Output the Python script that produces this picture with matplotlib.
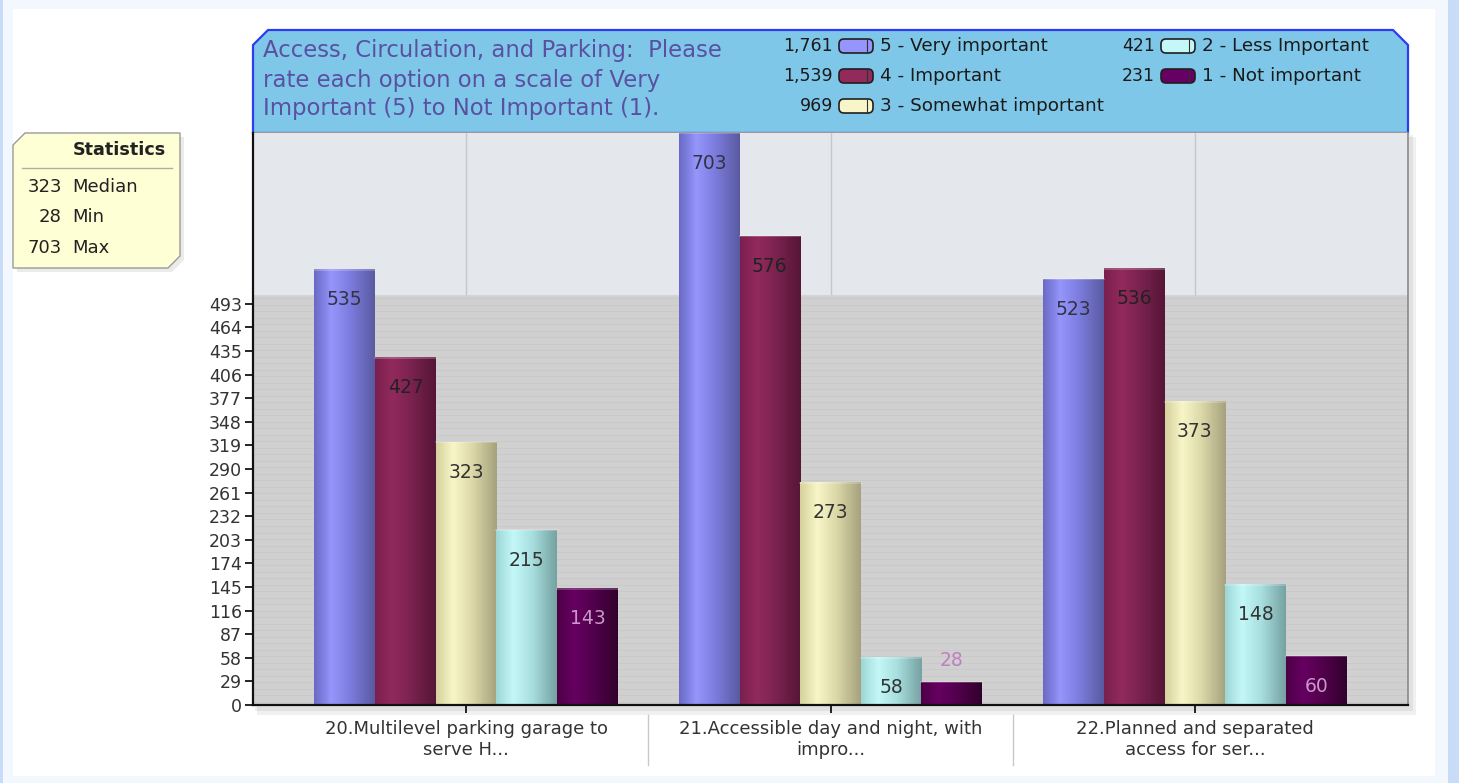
import numpy as np
import matplotlib
matplotlib.use("Agg")
import matplotlib.pyplot as plt
from matplotlib.colors import LinearSegmentedColormap
from matplotlib.patches import Polygon, Rectangle, FancyBboxPatch
import matplotlib.transforms as mtransforms

plt.rcParams['font.family'] = ['DejaVu Sans']

# ---------------- data ----------------
categories = ["20.Multilevel parking garage to\nserve H...",
              "21.Accessible day and night, with\nimpro...",
              "22.Planned and separated\naccess for ser..."]
series_names = ["5 - Very important", "4 - Important", "3 - Somewhat important",
                "2 - Less Important", "1 - Not important"]
very_important = [535, 703, 523]
important = [427, 576, 536]
somewhat_important = [323, 273, 373]
less_important = [215, 58, 148]
not_important = [143, 28, 60]
series_values = [very_important, important, somewhat_important, less_important, not_important]
title_lines = ["Access, Circulation, and Parking:  Please",
               "rate each option on a scale of Very",
               "Important (5) to Not Important (1)."]
y_ticks = list(range(0, 494, 29))

# ---------------- styles ----------------
grads = [
    [(0, '#6a6ac6'), (0.28, '#9595fc'), (0.6, '#7c7cde'), (1, '#5a5aa2')],
    [(0, '#7a2050'), (0.28, '#922a5c'), (0.6, '#7a2250'), (1, '#561636')],
    [(0, '#d6d29e'), (0.28, '#f8f6c8'), (0.6, '#dcd8a8'), (1, '#a6a27e')],
    [(0, '#9ed6d6'), (0.28, '#c4f8f8'), (0.6, '#a8dede'), (1, '#76a2a2')],
    [(0, '#4e0046'), (0.28, '#660062'), (0.6, '#52004c'), (1, '#32002e')],
]
label_colors = ['#333344', '#222222', '#333333', '#333333', '#c898c8']
cmaps = [LinearSegmentedColormap.from_list(f"g{i}", g) for i, g in enumerate(grads)]

W, H = 1459, 783
fig = plt.figure(figsize=(W / 100, H / 100), dpi=100)
fig.patch.set_facecolor('#f2f8fe')

# overlay axes in pixel coordinates for decorations
bg = fig.add_axes([0, 0, 1, 1], zorder=0)
bg.set_xlim(0, W)
bg.set_ylim(H, 0)
bg.axis('off')
bg.add_patch(Rectangle((0, 0), 3, H, color='#c8dcf8', lw=0))
bg.add_patch(Rectangle((1448, 0), 11, H, color='#c8dcf8', lw=0))
bg.add_patch(Rectangle((13, 9), 1422, 767, color='white', lw=0))

# plot area geometry (pixels)
PL, PR, PT, PB = 253, 1408, 133, 705
# shadow
bg.add_patch(Rectangle((PL + 4, PT + 4), PR - PL + 4, PB - PT + 6, color='#000000', alpha=0.06, lw=0))
bg.add_patch(Rectangle((PL + 2, PT + 2), PR - PL + 3, PB - PT + 4, color='#000000', alpha=0.06, lw=0))

# title box
tb = Polygon([(253, 45), (268, 30), (1393, 30), (1408, 45), (1408, 133), (253, 133)],
             closed=True, facecolor='#7fc7e8', edgecolor='#2b3cf2', lw=1.6, zorder=2)
bg.add_patch(tb)
bg.plot([253, 1408], [133, 133], color='#9a9a9a', lw=1.5, zorder=3)
for k, line in enumerate(title_lines):
    bg.text(263, 51 + 29 * k, line, fontsize=16.4, color='#5a50a2', va='center', ha='left', zorder=4)

# legend
totals = [sum(v) for v in series_values]
leg_pos = [(833, 46), (833, 76), (833, 106), (1155, 46), (1155, 76)]
for i, (x, y) in enumerate(leg_pos):
    bg.text(x, y, f"{totals[i]:,}", fontsize=12.5, ha='right', va='center', color='#1a1a1a', zorder=4)
    sw = FancyBboxPatch((x + 6, y - 7), 34, 14, boxstyle="round,pad=0,rounding_size=5",
                        facecolor=grads[i][1][1], edgecolor='#202020', lw=1.2, zorder=4)
    bg.add_patch(sw)
    bg.plot([x + 34, x + 34], [y - 6.5, y + 6.5], color='#303030', lw=0.8, zorder=5)
    bg.text(x + 47, y, series_names[i], fontsize=13.2, ha='left', va='center', color='#1a1a1a', zorder=4)

# statistics box
allv = np.concatenate([np.array(v) for v in series_values])
stats = [(int(np.median(allv)), "Median"), (int(allv.min()), "Min"), (int(allv.max()), "Max")]
bg.add_patch(Polygon([(13 + 4, 145 + 4), (25 + 4, 133 + 4), (180 + 4, 133 + 4), (180 + 4, 256 + 4),
                      (168 + 4, 268 + 4), (13 + 4, 268 + 4)], closed=True, facecolor='#000000',
                     alpha=0.08, lw=0))
bg.add_patch(Polygon([(13, 145), (25, 133), (180, 133), (180, 256), (168, 268), (13, 268)],
                     closed=True, facecolor='#ffffd6', edgecolor='#9a9a9a', lw=1.0, zorder=2))
bg.text(119, 150, "Statistics", fontsize=12.7, fontweight='bold', ha='center', va='center',
        color='#222222', zorder=3)
bg.plot([22, 172], [168, 168], color='#b0b0a0', lw=1.0, zorder=3)
for k, (v, name) in enumerate(stats):
    yy = 187 + k * 30.5
    bg.text(62, yy, str(v), fontsize=13, ha='right', va='center', color='#222222', zorder=3)
    bg.text(72, yy, name, fontsize=13, ha='left', va='center', color='#222222', zorder=3)

# ---------------- main axes ----------------
ax = fig.add_axes([PL / W, (H - PB) / H, (PR - PL) / W, (PB - PT) / H], zorder=1)
ax.patch.set_alpha(0)
ymax = max(allv)
x = np.arange(len(categories))
n = len(series_values)
bw = 0.1665
ax.set_xlim(-0.585, len(categories) - 1 + 0.585)
ax.set_ylim(0, ymax)

ax.axhspan(0, 505, color='#d0d0d0', zorder=0)
ax.axhspan(505, ymax, color='#e4e8ec', zorder=0)
for yy in np.arange(4, 505, 8):
    ax.axhline(yy, color='#c8c8c8', lw=0.6, zorder=0.1)
for c in x:
    ax.plot([c, c], [505, ymax], color='#c4c8cc', lw=1.0, zorder=0.2)

grad = np.linspace(0, 1, 64).reshape(1, -1)
for i, vals in enumerate(series_values):
    for j, v in enumerate(vals):
        x0 = x[j] + (i - n / 2) * bw
        ax.imshow(grad, cmap=cmaps[i], extent=[x0, x0 + bw, 0, v], aspect='auto',
                  origin='lower', zorder=2, interpolation='bilinear')
        ax.plot([x0, x0 + bw], [v, v], color='white', alpha=0.25, lw=1.2, zorder=2.1)
        if v >= 45:
            ax.text(x0 + bw / 2, v - 37, str(v), ha='center', va='center', fontsize=13.5,
                    color=label_colors[i], zorder=3, clip_on=True)
        else:
            ax.text(x0 + bw / 2, v + 27, str(v), ha='center', va='center', fontsize=13.5,
                    color='#c080c0', zorder=3)

ax.set_xlim(-0.585, len(categories) - 1 + 0.585)
ax.set_ylim(0, ymax)

ax.set_yticks(y_ticks)
ax.set_yticklabels([str(t) for t in y_ticks], fontsize=12.5, color='#333333')
ax.set_xticks(x)
ax.set_xticklabels(categories, fontsize=13, color='#333333', linespacing=1.22)
ax.tick_params(axis='y', direction='out', length=6, width=1.2, pad=2)
ax.tick_params(axis='x', direction='out', length=6, width=1.2, pad=5)

ax.spines['top'].set_visible(False)
ax.spines['left'].set_linewidth(1.6)
ax.spines['bottom'].set_linewidth(1.6)
ax.spines['left'].set_color('#111111')
ax.spines['bottom'].set_color('#111111')
ax.spines['right'].set_color('#8a8a8a')
ax.spines['right'].set_linewidth(1.2)

trans = mtransforms.blended_transform_factory(ax.transData, ax.transAxes)
for b in np.arange(len(categories) - 1) + 0.5:
    ax.plot([b, b], [-0.017, -0.105], color='#c8c8c8', lw=1.0, transform=trans, clip_on=False)

fig.savefig("out.png", dpi=100, facecolor=fig.get_facecolor())
